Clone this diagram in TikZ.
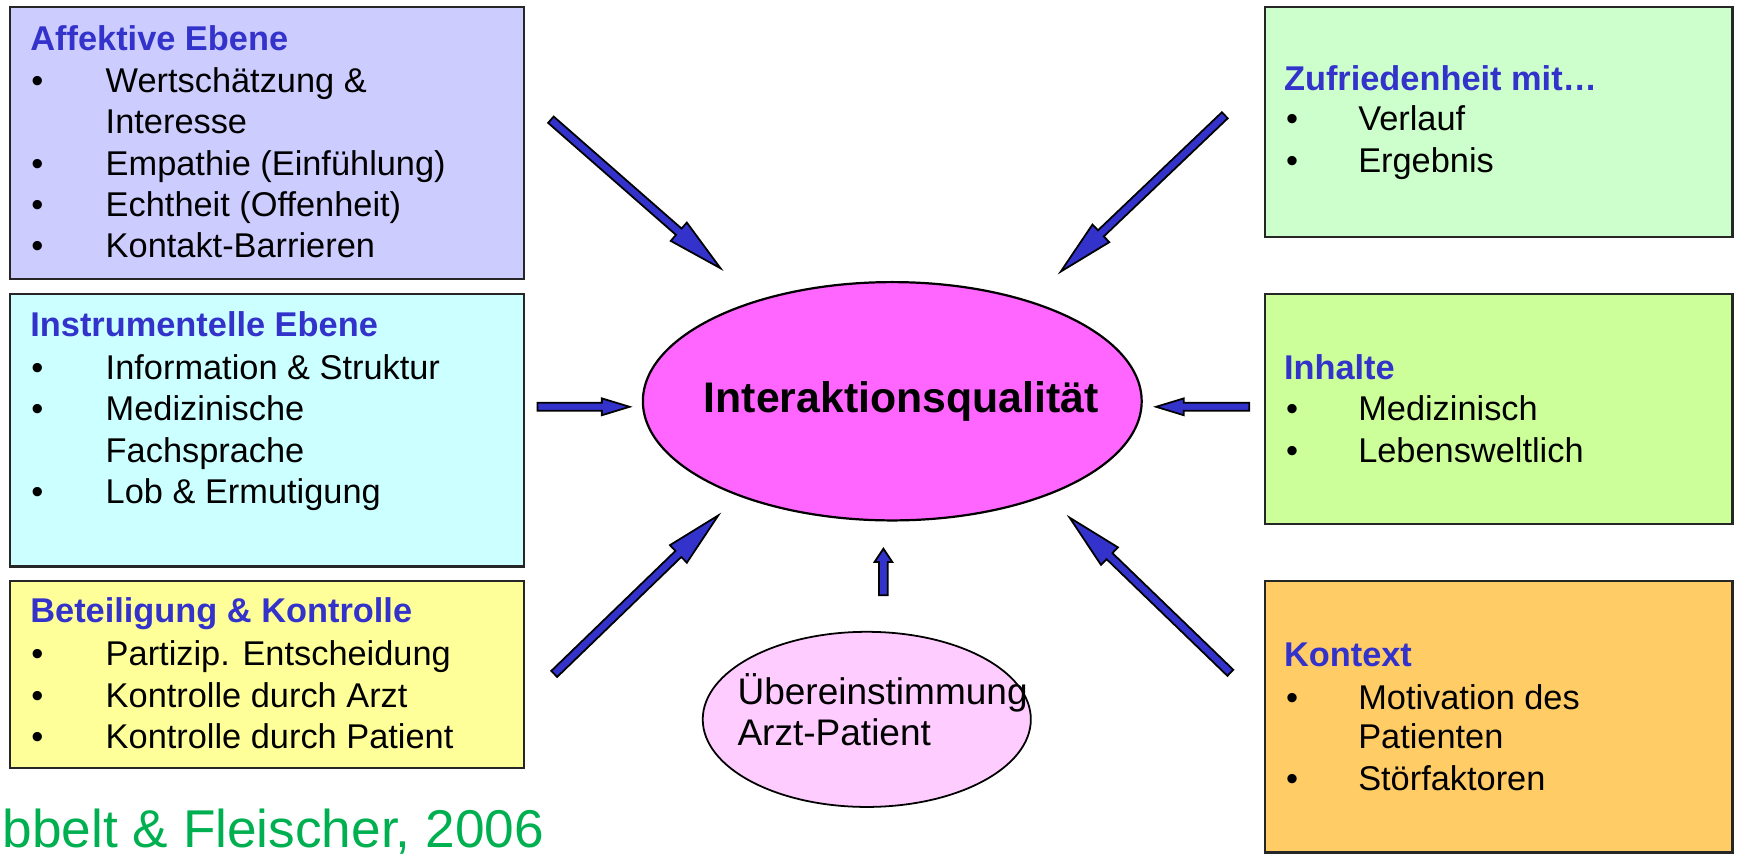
\documentclass[tikz,border=0pt]{standalone}
\usepackage{fontspec}
\setmainfont{Liberation Sans}
\usetikzlibrary{calc,shapes.geometric}
\definecolor{cAff}{HTML}{CCCCFF}
\definecolor{cIns}{HTML}{CCFFFF}
\definecolor{cBet}{HTML}{FFFF99}
\definecolor{cZuf}{HTML}{CCFFCC}
\definecolor{cInh}{HTML}{CCFF99}
\definecolor{cKon}{HTML}{FFCC66}
\definecolor{cMain}{HTML}{FF66FF}
\definecolor{cSmall}{HTML}{FFCCFF}
\definecolor{cTitle}{HTML}{3333CC}
\definecolor{cArrow}{HTML}{3333CC}
\definecolor{cCite}{HTML}{00B050}
\newcommand{\bodyfont}{\fontsize{15.5pt}{18.75pt}\selectfont}
% block arrow: #1 start, #2 tip, #3 shaft half width, #4 head half width, #5 head length
\newcommand{\blkarrow}[5]{%
  \coordinate (hb) at ($(#2)!#5!(#1)$);
  \filldraw[fill=cArrow,draw=black,line width=0.8pt,line join=miter]
    ($(#1)!#3!90:(#2)$) -- ($(hb)!#3!90:(#2)$) -- ($(hb)!#4!90:(#2)$) -- (#2)
    -- ($(hb)!#4!-90:(#2)$) -- ($(hb)!#3!-90:(#2)$) -- ($(#1)!#3!-90:(#2)$) -- cycle;
}
\begin{document}
\begin{tikzpicture}[x=0.5pt,y=-0.5pt,
  box/.style={draw=black!85,line width=1pt,rectangle,anchor=north west,inner sep=0pt},
  ttl/.style={anchor=base west,inner sep=0pt,font=\bodyfont\bfseries,text=cTitle},
  ln/.style={anchor=base west,inner sep=0pt,font=\bodyfont},
  bul/.style={anchor=base west,inner sep=0pt,font=\bodyfont},
  sml/.style={anchor=base west,inner sep=0pt,font=\fontsize{16.7pt}{20pt}\selectfont}]
\useasboundingbox (0,0) rectangle (1568,773);
% boxes
\node[box,fill=cAff,minimum width=232pt,minimum height=123pt] (aff) at (8,5) {};
\node[box,fill=cIns,minimum width=232pt,minimum height=123pt] (ins) at (8,264) {};
\node[box,fill=cBet,minimum width=232pt,minimum height=84.5pt] (bet) at (8,523) {};
\node[box,fill=cZuf,minimum width=211pt,minimum height=104pt] (zuf) at (1140,5) {};
\node[box,fill=cInh,minimum width=211pt,minimum height=104pt] (inh) at (1140,264) {};
\node[box,fill=cKon,minimum width=211pt,minimum height=122.5pt] (kon) at (1140,523) {};
% ellipses
\node[ellipse,draw=black,line width=1pt,fill=cMain,minimum width=225pt,minimum height=107.5pt,inner sep=0pt] (main) at (805,362) {};
\node[font=\fontsize{19.3pt}{23pt}\selectfont\bfseries,inner sep=0pt] (mainl) at (813,362) {Interaktionsqualität};
\node[ellipse,draw=black,line width=0.8pt,fill=cSmall,minimum width=148pt,minimum height=79pt,inner sep=0pt] (small) at (782,649) {};
\node[sml] (s1) at (665,636) {Übereinstimmung};
\node[sml] (s2) at (665,673) {Arzt-Patient};
% Affektive
\node[ttl] (a0) at (27,46) {Affektive Ebene};
\node[bul] (ab1) at (28,83) {•}; \node[ln] (a1) at (95,83) {Wertschätzung \&};
\node[ln] (a1b) at (95,120) {Interesse};
\node[bul] (ab2) at (28,158) {•}; \node[ln] (a2) at (95,158) {Empathie (Einfühlung)};
\node[bul] (ab3) at (28,195) {•}; \node[ln] (a3) at (95,195) {Echtheit (Offenheit)};
\node[bul] (ab4) at (28,232) {•}; \node[ln] (a4) at (95,232) {Kontakt-Barrieren};
% Instrumentelle
\node[ttl] (i0) at (27,304) {Instrumentelle Ebene};
\node[bul] (ib1) at (28,342) {•}; \node[ln] (i1) at (95,342) {Information \& Struktur};
\node[bul] (ib2) at (28,379) {•}; \node[ln] (i2) at (95,379) {Medizinische};
\node[ln] (i2b) at (95,417) {Fachsprache};
\node[bul] (ib3) at (28,454) {•}; \node[ln] (i3) at (95,454) {Lob \& Ermutigung};
% Beteiligung
\node[ttl] (b0) at (27,562) {Beteiligung \& Kontrolle};
\node[bul] (bb1) at (28,600) {•}; \node[ln] (b1) at (95,600) {Partizip. Entscheidung};
\node[bul] (bb2) at (28,638) {•}; \node[ln] (b2) at (95,638) {Kontrolle durch Arzt};
\node[bul] (bb3) at (28,675) {•}; \node[ln] (b3) at (95,675) {Kontrolle durch Patient};
% Zufriedenheit
\node[ttl] (z0) at (1158,82) {Zufriedenheit mit…};
\node[bul] (zb1) at (1160,118) {•}; \node[ln] (z1) at (1225,118) {Verlauf};
\node[bul] (zb2) at (1160,156) {•}; \node[ln] (z2) at (1225,156) {Ergebnis};
% Inhalte
\node[ttl] (h0) at (1158,342) {Inhalte};
\node[bul] (hb1) at (1160,379) {•}; \node[ln] (h1) at (1225,379) {Medizinisch};
\node[bul] (hb2) at (1160,417) {•}; \node[ln] (h2) at (1225,417) {Lebensweltlich};
% Kontext
\node[ttl] (k0) at (1158,601) {Kontext};
\node[bul] (kb1) at (1160,640) {•}; \node[ln] (k1) at (1225,640) {Motivation des};
\node[ln] (k1b) at (1225,675) {Patienten};
\node[bul] (kb2) at (1160,713) {•}; \node[ln] (k2) at (1225,713) {Störfaktoren};
% citation
\node[anchor=base west,inner sep=0pt,font=\fontsize{24pt}{28pt}\selectfont,text=cCite] (cite) at (2,765) {bbelt \& Fleischer, 2006};
% arrows
\coordinate (s1a) at (497,108); \coordinate (t1a) at (650,242);
\coordinate (s2a) at (1105,104); \coordinate (t2a) at (957,245);
\coordinate (s3a) at (485,367); \coordinate (t3a) at (568,367);
\coordinate (s4a) at (1127,367); \coordinate (t4a) at (1043,367);
\coordinate (s5a) at (500,608); \coordinate (t5a) at (648,465);
\coordinate (s6a) at (1110,607); \coordinate (t6a) at (965,467);
\coordinate (s7a) at (797,537); \coordinate (t7a) at (797,495);
\blkarrow{s1a}{t1a}{1.9pt}{5.5pt}{25pt}
\blkarrow{s2a}{t2a}{1.9pt}{5.5pt}{25pt}
\blkarrow{s3a}{t3a}{1.8pt}{3.8pt}{12.5pt}
\blkarrow{s4a}{t4a}{1.8pt}{3.8pt}{12.5pt}
\blkarrow{s5a}{t5a}{1.9pt}{5.5pt}{25pt}
\blkarrow{s6a}{t6a}{1.9pt}{5.5pt}{25pt}
\blkarrow{s7a}{t7a}{2pt}{4pt}{6pt}
\end{tikzpicture}
\end{document}
